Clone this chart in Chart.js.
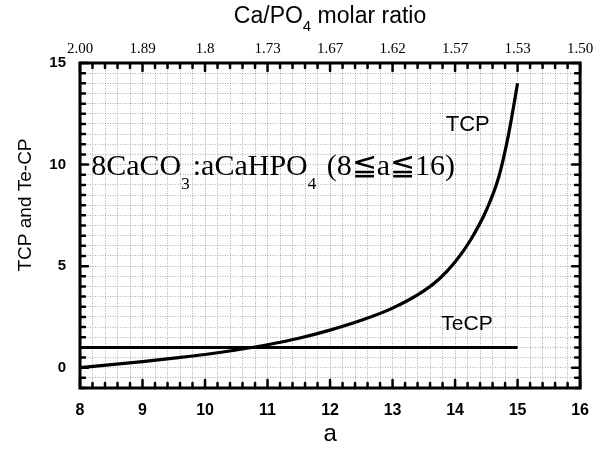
<!DOCTYPE html>
<html>
<head>
<meta charset="utf-8">
<script src="https://cdn.jsdelivr.net/npm/chart.js@4.4.1/dist/chart.umd.min.js"></script>
<style>
  body { margin: 0; background: #fff; }
</style>
</head>
<body>
<canvas id="chart" width="602" height="452"></canvas>
<script>
// values
var aTicks = [8, 9, 10, 11, 12, 13, 14, 15, 16];
var ratioLabels = ["2.00", "1.89", "1.8", "1.73", "1.67", "1.62", "1.57", "1.53", "1.50"];
var tcpA   = [8, 8.5, 9, 9.5, 10, 10.5, 11, 11.5, 12, 12.5, 13, 13.5, 13.75, 14, 14.25, 14.5, 14.7, 14.85, 15];
var tcpVal = [0, 0.15, 0.3, 0.47, 0.65, 0.87, 1.13, 1.45, 1.85, 2.33, 2.93, 3.78, 4.38, 5.2, 6.3, 7.75, 9.4, 11.4, 14.0];
var tecpA   = [8, 15];
var tecpVal = [1, 1];

var SANS = '"Liberation Sans", Arial, sans-serif';
var SERIF = '"Liberation Serif", "Times New Roman", serif';

function pts(xs, ys) {
    return xs.map(function (x, i) { return { x: x, y: ys[i] }; });
}

function isInt(v) { return Math.abs(v - Math.round(v)) < 1e-6; }

var gridStyle = { color: 'rgba(0,0,0,0.4)', lineWidth: 0.8, drawTicks: false };

// frame, inward tick marks and the texts on the plot
var decorations = {
    id: 'decorations',
    afterDatasetsDraw: function (chart) {
        var ctx = chart.ctx, ca = chart.chartArea, sx = chart.scales.x, sy = chart.scales.y;
        ctx.save();
        ctx.strokeStyle = '#000';
        ctx.lineCap = 'round';
        ctx.lineWidth = 2.5;
        ctx.beginPath();
        sx.ticks.forEach(function (t) {
            var px = sx.getPixelForValue(t.value);
            var len = isInt(t.value) ? 8 : 5;
            ctx.moveTo(px, ca.bottom); ctx.lineTo(px, ca.bottom - len);
            ctx.moveTo(px, ca.top); ctx.lineTo(px, ca.top + len);
        });
        sy.ticks.forEach(function (t) {
            var py = sy.getPixelForValue(t.value);
            var len = (isInt(t.value) && Math.round(t.value) % 5 === 0) ? 8 : 5;
            ctx.moveTo(ca.left, py); ctx.lineTo(ca.left + len, py);
            ctx.moveTo(ca.right, py); ctx.lineTo(ca.right - len, py);
        });
        ctx.stroke();
        ctx.lineCap = 'butt';
        ctx.lineWidth = 3;
        ctx.strokeRect(ca.left, ca.top, ca.right - ca.left, ca.bottom - ca.top);

        ctx.fillStyle = '#000';
        ctx.textBaseline = 'alphabetic';

        // top axis title with subscript
        var cx = (ca.left + ca.right) / 2;
        var p1 = 'Ca/PO', p2 = ' molar ratio';
        ctx.font = '23px ' + SANS;
        var w1 = ctx.measureText(p1).width, w3 = ctx.measureText(p2).width;
        ctx.font = '15px ' + SANS;
        var w2 = ctx.measureText('4').width;
        var x0 = cx - (w1 + w2 + w3) / 2;
        ctx.font = '23px ' + SANS;
        ctx.fillText(p1, x0, 23);
        ctx.fillText(p2, x0 + w1 + w2, 23);
        ctx.font = '15px ' + SANS;
        ctx.fillText('4', x0 + w1, 31);

        // left axis title
        ctx.save();
        ctx.translate(26, 205);
        ctx.rotate(-Math.PI / 2);
        ctx.font = '19px ' + SANS;
        ctx.textAlign = 'center';
        ctx.textBaseline = 'middle';
        ctx.fillText('TCP and Te-CP', 0, 0);
        ctx.restore();

        // reaction annotation
        var parts = [['8CaCO', 0], ['3', 1], [':aCaHPO', 0], ['4', 1], [' (8\u2266a\u226616)', 0]];
        var x = sx.getPixelForValue(8.18), y = sy.getPixelForValue(9.48);
        parts.forEach(function (p) {
            ctx.font = (p[1] ? '17px ' : '30px ') + SERIF;
            ctx.fillText(p[0], x, y + (p[1] ? 14 : 0));
            x += ctx.measureText(p[0]).width + (p[1] ? 3 : 0);
        });

        // curve labels
        ctx.font = '22px ' + SANS;
        ctx.textBaseline = 'middle';
        ctx.fillText('TCP', sx.getPixelForValue(13.85), sy.getPixelForValue(11.95));
        ctx.font = '21px ' + SANS;
        ctx.fillText('TeCP', sx.getPixelForValue(13.78), sy.getPixelForValue(2.12));
        ctx.restore();
    }
};

new Chart(document.getElementById('chart').getContext('2d'), {
    type: 'scatter',
    data: {
        datasets: [
            {
                label: 'TCP',
                data: pts(tcpA, tcpVal),
                showLine: true,
                borderColor: '#000',
                borderWidth: 3.2,
                pointRadius: 0,
                cubicInterpolationMode: 'monotone'
            },
            {
                label: 'TeCP',
                data: pts(tecpA, tecpVal),
                showLine: true,
                borderColor: '#000',
                borderWidth: 3,
                pointRadius: 0
            }
        ]
    },
    options: {
        responsive: false,
        animation: false,
        devicePixelRatio: 1,
        layout: { padding: { left: 0, right: 20, top: 0, bottom: 0 } },
        plugins: { legend: { display: false }, tooltip: { enabled: false } },
        scales: {
            x: {
                type: 'linear',
                position: 'bottom',
                min: 8, max: 16,
                afterFit: function (s) { s.height = 64; },
                border: { display: false, dash: [1, 1.5] },
                grid: gridStyle,
                ticks: {
                    stepSize: 0.2,
                    autoSkip: false,
                    maxRotation: 0,
                    padding: 13,
                    color: '#000',
                    font: { family: SANS, size: 16, weight: 'bold' },
                    callback: function (v) {
                        return isInt(v) && aTicks.indexOf(Math.round(v)) >= 0 ? String(Math.round(v)) : '';
                    }
                },
                title: {
                    display: true,
                    text: 'a',
                    color: '#000',
                    font: { family: SANS, size: 24 },
                    padding: { top: 0, bottom: 3 }
                }
            },
            x2: {
                type: 'linear',
                position: 'top',
                min: 8, max: 16,
                afterFit: function (s) { s.height = 63; },
                border: { display: false },
                grid: { display: false, drawTicks: false },
                ticks: {
                    stepSize: 1,
                    autoSkip: false,
                    maxRotation: 0,
                    padding: 5,
                    color: '#000',
                    font: { family: SERIF, size: 15 },
                    callback: function (v) {
                        var i = aTicks.indexOf(Math.round(v));
                        return i >= 0 ? ratioLabels[i] : '';
                    }
                }
            },
            y: {
                type: 'linear',
                min: -1, max: 15,
                afterFit: function (s) { s.width = 80; },
                border: { display: false, dash: [1, 1.5] },
                grid: gridStyle,
                ticks: {
                    stepSize: 0.5,
                    autoSkip: false,
                    padding: 14,
                    color: '#000',
                    font: { family: SANS, size: 15, weight: 'bold' },
                    callback: function (v) {
                        return isInt(v) && Math.round(v) % 5 === 0 ? String(Math.round(v)) : '';
                    }
                }
            }
        }
    },
    plugins: [decorations]
});
</script>
</body>
</html>
